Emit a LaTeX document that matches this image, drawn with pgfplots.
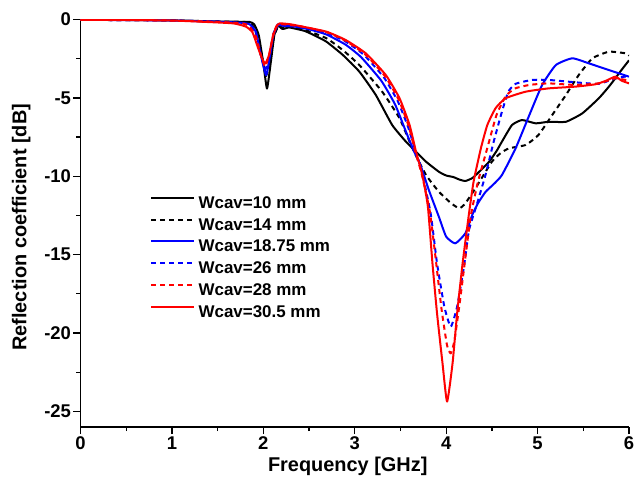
\documentclass[border=0pt]{standalone}
\usepackage{pgfplots}
\pgfplotsset{compat=1.18}
\usepackage{fontspec}
\setmainfont{Liberation Sans}
\definecolor{myblue}{RGB}{0,0,255}
\definecolor{myred}{RGB}{255,0,0}
\begin{document}
\begin{tikzpicture}
\begin{axis}[
  scale only axis, width=548.5bp, height=407.4bp,
  xmin=0, xmax=6, ymin=-26, ymax=0,
  axis lines=left, axis line style={-, line width=1.4bp},
  xtick={0,1,2,3,4,5,6}, xticklabels={0,1,2,3,4,5,6},
  ytick={-25,-20,-15,-10,-5,0}, yticklabels={-25,-20,-15,-10,-5,0},
  minor x tick num=1, minor y tick num=1,
  tick align=outside, major tick length=7bp, minor tick length=4bp,
  every tick/.style={line width=1.3bp, black},
  tick label style={font=\bfseries\fontsize{18.5}{18.5}\selectfont},
  xticklabel style={yshift=1bp},
  yticklabel style={xshift=1bp},
  xlabel={Frequency [GHz]}, ylabel={Reflection coefficient [dB]},
  label style={font=\bfseries\fontsize{20}{20}\selectfont},
  xlabel style={yshift=-1bp, xshift=-7bp},
  ylabel style={yshift=7bp, xshift=-4bp},
  legend cell align=left,
  legend style={at={(axis cs:0.76,-11.25)}, anchor=north west, draw=none, fill=none,
    font=\bfseries\fontsize{17}{17}\selectfont, inner sep=0pt, row sep=5.7bp, column sep=3.5bp,
    nodes={inner sep=0pt, text height=12.5bp, text depth=3.5bp}},
  legend image code/.code={\path (0bp,0bp); \draw[line width=2bp,#1] (0bp,6bp) -- (43bp,6bp);},
  every axis plot/.append style={line width=2bp, line join=round, smooth, tension=0.3},
]
% Wcav=10 mm
\addplot[black] coordinates {
(0,-0.02) (0.3,-0.01) (0.6,-0.03) (1.0,-0.05) (1.3,-0.09) (1.5,-0.12) (1.7,-0.14) (1.85,-0.15)
(1.9,-0.3) (1.95,-1.0) (2.0,-2.8) (2.04,-4.4) (2.08,-2.8) (2.12,-1.0) (2.16,-0.4) (2.21,-0.6)
(2.28,-0.5) (2.35,-0.58) (2.45,-0.72) (2.55,-0.98) (2.69,-1.41) (2.87,-2.26) (3.05,-3.32)
(3.23,-4.81) (3.41,-6.73) (3.56,-7.79) (3.67,-8.43) (3.78,-9.07) (3.92,-9.71) (4.0,-9.95)
(4.08,-10.05) (4.14,-10.2) (4.21,-10.3) (4.29,-10.1) (4.38,-9.6) (4.47,-9.07) (4.55,-8.4)
(4.61,-7.79) (4.72,-6.73) (4.83,-6.41) (4.98,-6.62) (5.12,-6.52) (5.31,-6.52) (5.49,-5.98)
(5.67,-5.02) (5.78,-4.28) (5.85,-3.75) (5.92,-3.2) (6.0,-2.6)
};
\addlegendentry{Wcav=10 mm}
% Wcav=14 mm
\addplot[black, dash pattern=on 5bp off 4bp] coordinates {
(0,-0.02) (0.5,-0.03) (1.0,-0.05) (1.5,-0.12) (1.8,-0.15) (1.88,-0.35) (1.95,-1.3) (2.0,-2.8)
(2.03,-3.6) (2.07,-2.6) (2.12,-1.0) (2.17,-0.4) (2.22,-0.55) (2.3,-0.45) (2.45,-0.65)
(2.69,-1.19) (2.87,-1.95) (3.05,-2.9) (3.30,-4.6) (3.49,-6.3) (3.63,-8.2) (3.78,-9.92)
(3.92,-10.98) (4.05,-11.7) (4.14,-12.04) (4.2,-11.8) (4.32,-10.77) (4.50,-9.07) (4.6,-8.5)
(4.69,-8.21) (4.87,-8.0) (5.01,-7.36) (5.16,-6.09) (5.31,-4.81) (5.45,-3.54) (5.60,-2.47)
(5.78,-2.05) (5.96,-2.15) (6.0,-2.3)
};
\addlegendentry{Wcav=14 mm}
% Wcav=18.75 mm
\addplot[myblue] coordinates {
(0,-0.02) (0.5,-0.03) (1.0,-0.06) (1.5,-0.13) (1.75,-0.2) (1.85,-0.3) (1.92,-0.8) (1.97,-2.2)
(2.03,-3.55) (2.07,-2.4) (2.11,-1.0) (2.16,-0.35) (2.22,-0.4) (2.35,-0.45) (2.5,-0.62)
(2.69,-0.95) (2.90,-1.6) (3.07,-2.4) (3.29,-3.9) (3.44,-5.4) (3.55,-7.0) (3.64,-8.3)
(3.72,-9.3) (3.81,-10.87) (3.92,-12.58) (4.0,-13.85) (4.10,-14.28) (4.21,-13.64) (4.29,-12.4)
(4.35,-11.7) (4.43,-11.0) (4.52,-10.5) (4.61,-9.92) (4.76,-8.21) (4.91,-6.09) (5.05,-4.17)
(5.20,-2.90) (5.38,-2.47) (5.56,-2.79) (5.78,-3.22) (6.0,-3.64)
};
\addlegendentry{Wcav=18.75 mm}
% Wcav=26 mm
\addplot[myblue, dash pattern=on 5bp off 4bp] coordinates {
(0,-0.02) (0.5,-0.03) (1.0,-0.06) (1.5,-0.13) (1.78,-0.25) (1.85,-0.4) (1.92,-1.0) (1.97,-2.2)
(2.02,-3.2) (2.07,-2.2) (2.11,-0.9) (2.16,-0.3) (2.22,-0.35) (2.4,-0.45) (2.69,-0.85)
(2.90,-1.4) (3.1,-2.25) (3.32,-3.7) (3.47,-5.2) (3.58,-6.8) (3.66,-8.3) (3.73,-9.6)
(3.83,-12.36) (3.90,-15.55) (3.98,-18.32) (4.05,-19.6) (4.12,-18.32) (4.20,-15.55)
(4.25,-13.43) (4.33,-11.9) (4.43,-9.92) (4.52,-7.79) (4.61,-5.88) (4.68,-4.6) (4.76,-4.1)
(4.94,-3.85) (5.12,-3.85) (5.41,-4.0) (5.67,-4.1) (5.85,-3.75) (6.0,-3.6)
};
\addlegendentry{Wcav=26 mm}
% Wcav=28 mm
\addplot[myred, dash pattern=on 5bp off 4bp] coordinates {
(0,-0.02) (0.5,-0.03) (1.0,-0.06) (1.5,-0.14) (1.78,-0.25) (1.85,-0.45) (1.92,-1.1) (1.97,-2.2)
(2.02,-3.0) (2.07,-2.1) (2.11,-0.9) (2.16,-0.3) (2.22,-0.3) (2.43,-0.45) (2.69,-0.8)
(2.90,-1.35) (3.12,-2.25) (3.33,-3.6) (3.48,-5.1) (3.59,-6.8) (3.66,-8.4) (3.73,-9.8)
(3.82,-12.2) (3.88,-15.0) (3.95,-18.5) (4.01,-20.8) (4.05,-21.3) (4.09,-20.5) (4.15,-18.0)
(4.21,-15.2) (4.27,-12.5) (4.35,-10.3) (4.45,-8.2) (4.55,-6.1) (4.65,-4.9) (4.75,-4.4)
(4.91,-4.17) (5.12,-4.07) (5.41,-4.17) (5.67,-4.07) (5.85,-3.75) (6.0,-3.9)
};
\addlegendentry{Wcav=28 mm}
% Wcav=30.5 mm
\addplot[myred] coordinates {
(0,-0.02) (0.5,-0.02) (1.0,-0.06) (1.3,-0.13) (1.67,-0.24) (1.81,-0.45) (1.88,-0.8) (1.93,-1.6)
(1.98,-2.4) (2.02,-2.8) (2.06,-2.3) (2.10,-1.2) (2.14,-0.45) (2.18,-0.24) (2.3,-0.3)
(2.43,-0.45) (2.69,-0.77) (2.90,-1.30) (3.12,-2.15) (3.34,-3.54) (3.49,-5.02) (3.60,-6.73)
(3.67,-8.43) (3.74,-9.92) (3.80,-11.94) (3.85,-15.55) (3.90,-18.74) (3.96,-21.93) (4.01,-24.38)
(4.07,-21.93) (4.12,-18.74) (4.18,-15.55) (4.25,-12.36) (4.30,-10.34) (4.38,-8.21) (4.45,-6.73)
(4.54,-5.66) (4.65,-5.02) (4.87,-4.6) (5.12,-4.39) (5.41,-4.28) (5.63,-4.13) (5.75,-3.9)
(5.85,-3.64) (5.92,-3.9) (6.0,-4.07)
};
\addlegendentry{Wcav=30.5 mm}
\end{axis}
\pgfresetboundingbox
\path (-80.5bp,-58bp) rectangle (556.5bp,427bp);
\end{tikzpicture}
\end{document}
